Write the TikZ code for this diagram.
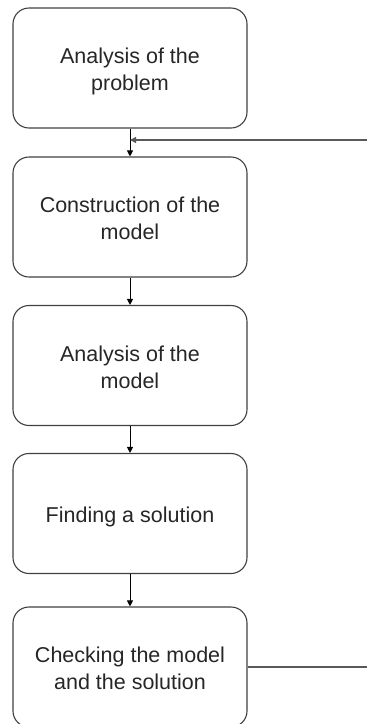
\documentclass[tikz,border=0pt]{standalone}
\usepackage{fontspec}
\setmainfont{Liberation Sans}
\usetikzlibrary{arrows.meta}
% centred multi-line label, set a little below the box centre
\newcommand{\stagelabel}[1]{\raisebox{-4pt}[\height][\depth]{\begin{tabular}{@{}c@{}}#1\end{tabular}}}
\begin{document}
\begin{tikzpicture}[x=1pt,y=-1pt,
  stage/.style={draw=black!75, line width=1.1pt, rounded corners=16pt,
    minimum width=234pt, minimum height=120pt,
    inner sep=0pt, text=black!85,
    font=\fontsize{21.5}{27}\selectfont},
  flow/.style={draw=black, line width=0.9pt, -{Triangle[length=6pt,width=6pt]}},
  back/.style={draw=black!65, line width=1.1pt}]
\useasboundingbox (0,0) rectangle (367,724);
% process stages
\node[stage] (p1) at (130,68)    {\stagelabel{Analysis of the\\problem}};
\node[stage] (p2) at (130,217)   {\stagelabel{Construction of the\\model}};
\node[stage] (p3) at (130,365.5) {\stagelabel{Analysis of the\\model}};
\node[stage] (p4) at (130,513.5) {\stagelabel{Finding a solution}};
\node[stage] (p5) at (130,667)   {\stagelabel{Checking the model\\and the solution}};
% forward flow
\draw[flow] (p1) -- (p2);
\draw[flow] (p2) -- (p3);
\draw[flow] (p3) -- (p4);
\draw[flow] (p4) -- (p5);
% feedback loop ends
\coordinate (fbin) at (367,140);
\coordinate (fbout) at (367,667);
\draw[back, -{Triangle[length=6pt,width=6pt]}] (fbin) -- (p1.south |- fbin);
\draw[back] (p5.east) -- (fbout);
\end{tikzpicture}
\end{document}
